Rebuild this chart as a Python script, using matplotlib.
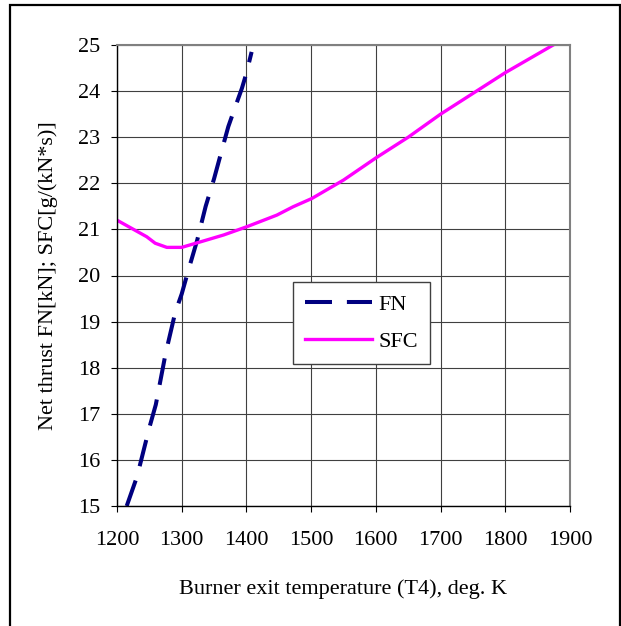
import matplotlib
matplotlib.use('Agg')
import matplotlib.pyplot as plt
from matplotlib.patches import Rectangle

# datos
t4_fn = [1215, 1222, 1231, 1250, 1260, 1275, 1290, 1300, 1310, 1324, 1337,
         1350, 1362, 1372, 1380, 1393, 1400, 1408]
fn = [15.0, 15.28, 15.64, 16.7, 17.2, 18.3, 19.2, 19.6, 20.1, 20.77, 21.5,
      22.1, 22.72, 23.23, 23.55, 24.06, 24.39, 24.85]

t4_sfc = [1200, 1223, 1246, 1259, 1277, 1300, 1329, 1365, 1401, 1447, 1472,
          1501, 1550, 1600, 1650, 1700, 1750, 1800, 1874]
sfc = [21.2, 21.02, 20.84, 20.70, 20.61, 20.61, 20.73, 20.88, 21.06, 21.31,
       21.49, 21.67, 22.07, 22.55, 23.0, 23.5, 23.95, 24.4, 25.0]

xticks = [1200, 1300, 1400, 1500, 1600, 1700, 1800, 1900]
yticks = [15, 16, 17, 18, 19, 20, 21, 22, 23, 24, 25]

plt.rcParams['font.family'] = ['Liberation Serif', 'DejaVu Serif']
plt.rcParams['font.size'] = 16

fig = plt.figure(figsize=(6.21, 6.26), dpi=100)
ax = fig.add_axes([117/621, 1 - 506/626, 453/621, 461/626])

ax.plot(t4_fn, fn, color='#000080', lw=2.9, linestyle=(0, (6.7, 3.7)),
        label='FN', solid_capstyle='butt', dash_capstyle='butt')
ax.plot(t4_sfc, sfc, color='#FF00FF', lw=2.4, label='SFC')

ax.set_xlim(1200, 1900)
ax.set_ylim(15, 25)
ax.set_xticks(xticks)
ax.set_yticks(yticks)
ax.grid(True, color='#404040', lw=0.8)
ax.set_axisbelow(True)

for s in ['top', 'right']:
    ax.spines[s].set_color('#808080')
    ax.spines[s].set_linewidth(1.5)
for s in ['left', 'bottom']:
    ax.spines[s].set_color('black')
    ax.spines[s].set_linewidth(1.0)

ax.tick_params(axis='x', direction='out', length=4.3, width=0.8, pad=14)
ax.tick_params(axis='y', direction='out', length=4.3, width=0.8, pad=8)

ax.set_xlabel('Burner exit temperature (T4), deg. K', va='center')
ax.xaxis.set_label_coords(0.5, (506 - 589) / 461)
ax.set_ylabel('Net thrust FN[kN]; SFC[g/(kN*s)]', va='center')
ax.yaxis.set_label_coords((48 - 117) / 453, 0.5)

leg = ax.legend(loc='upper left', bbox_to_anchor=(293/621, 1 - 282/626),
                bbox_transform=fig.transFigure, fancybox=False, shadow=False,
                frameon=True, borderaxespad=0, handlelength=3.0,
                handletextpad=0.3, borderpad=0.55, labelspacing=0.75)
leg.get_frame().set_edgecolor('#404040')
leg.get_frame().set_linewidth(1.0)
leg.get_frame().set_alpha(1)

# marco exterior
fig.patches.append(Rectangle((10/621, -0.05), 610/621, 1.05 - 5/626,
                             transform=fig.transFigure, fill=False,
                             edgecolor='black', lw=1.6, clip_on=False))

fig.savefig('out.png', dpi=100)
